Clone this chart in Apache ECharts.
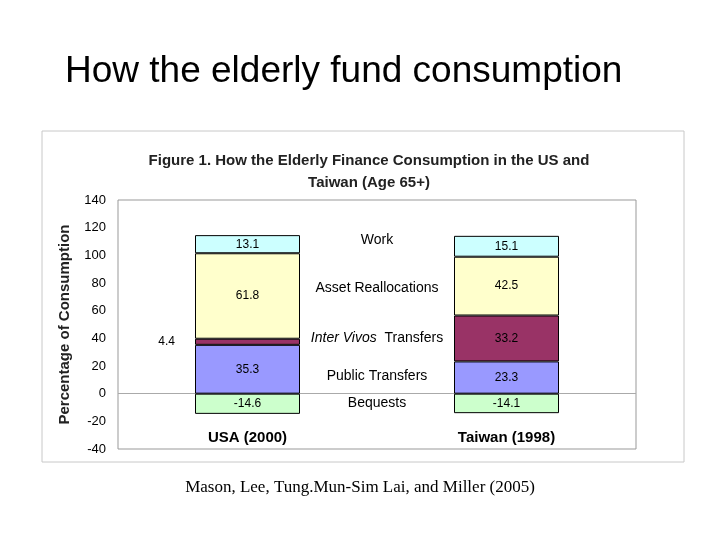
<!DOCTYPE html>
<html>
<head>
<meta charset="utf-8">
<script src="https://cdn.jsdelivr.net/npm/echarts@6/dist/echarts.min.js"></script>
<style>
  html, body { margin: 0; padding: 0; background: #fff; }
  #chart { width: 720px; height: 540px; }
</style>
</head>
<body>
<div id="chart"></div>
<script>
// categories and stacked components (percent of consumption)
var countries = ['USA (2000)', 'Taiwan (1998)'];
var publicTransfers = [35.3, 23.3];
var interVivos = [4.4, 33.2];
var assetRealloc = [61.8, 42.5];
var work = [13.1, 15.1];
var bequests = [-14.6, -14.1];

// middle legend-style labels and their heights
var middleNames = ['Work', 'Asset Reallocations', '{i|Inter Vivos}  Transfers', 'Public Transfers', 'Bequests'];
var middleY = [111, 76, 40, 13, -7];

var myChart = echarts.init(document.getElementById('chart'));

function part(name, data, color, opts) {
    return Object.assign({
        name: name,
        type: 'bar',
        stack: 'all',
        data: data,
        barWidth: 105,
        itemStyle: { color: color, borderColor: '#000', borderWidth: 1 },
        label: { show: true, position: 'inside', color: '#000', fontSize: 12, fontFamily: 'Liberation Sans' }
    }, opts || {});
}

myChart.setOption({
    animation: false,
    textStyle: { fontFamily: 'Liberation Sans' },
    title: [
        {
            text: 'How the elderly fund consumption',
            left: 60, top: 48,
            textStyle: { fontSize: 37, fontWeight: 'normal', color: '#000', fontFamily: 'Liberation Sans' }
        },
        {
            text: 'Figure 1. How the Elderly Finance Consumption in the US and\nTaiwan (Age 65+)',
            left: 364, top: 145, textAlign: 'center',
            textStyle: { fontSize: 15, fontWeight: 'bold', color: '#222', lineHeight: 22, fontFamily: 'Liberation Sans' }
        },
        {
            text: 'Mason, Lee, Tung.Mun-Sim Lai, and Miller (2005)',
            left: 'center', top: 474,
            textStyle: { fontSize: 17, fontWeight: 'normal', color: '#000', fontFamily: 'Liberation Serif' }
        }
    ],
    graphic: [{
        type: 'rect',
        shape: { x: 42, y: 131, width: 642, height: 331 },
        style: { fill: 'none', stroke: '#c8c8c8', lineWidth: 1 },
        z: -1
    }],
    grid: { left: 118, right: 84, top: 200, bottom: 91, show: true, borderColor: '#999', borderWidth: 1 },
    xAxis: [
        {
            type: 'category',
            data: countries,
            position: 'bottom',
            axisTick: { show: false },
            axisLine: { show: false },
            axisLabel: { inside: true, margin: 4, fontSize: 15, fontWeight: 'bold', color: '#000', verticalAlign: 'bottom' }
        },
        { type: 'value', min: 0, max: 1, show: false }
    ],
    yAxis: {
        type: 'value',
        min: -40, max: 140, interval: 20,
        name: 'Percentage of Consumption',
        nameLocation: 'middle',
        nameGap: 46,
        nameTextStyle: { fontSize: 15, fontWeight: 'bold', color: '#222' },
        axisLine: { show: false },
        axisTick: { show: false },
        splitLine: { show: false },
        axisLabel: { fontSize: 13, color: '#000', margin: 12 }
    },
    series: [
        part('Public Transfers', publicTransfers, '#9999ff'),
        part('Inter Vivos Transfers', interVivos.map(function (v, i) {
            return i === 0
                ? { value: v, label: { position: 'left', distance: 20 } }
                : { value: v };
        }), '#993366'),
        part('Asset Reallocations', assetRealloc, '#ffffcc'),
        part('Work', work, '#ccffff'),
        part('Bequests', bequests, '#ccffcc', {
            markLine: {
                silent: true, symbol: 'none',
                lineStyle: { color: '#aaa', type: 'solid', width: 1 },
                label: { show: false },
                data: [{ yAxis: 0 }],
                z: 0
            }
        }),
        {
            type: 'scatter',
            xAxisIndex: 1,
            symbolSize: 0,
            itemStyle: { opacity: 1 },
            data: middleNames.map(function (n, i) { return { name: n, value: [0.5, middleY[i]] }; }),
            label: {
                show: true, position: 'inside', color: '#000', fontSize: 14,
                formatter: function (p) { return p.name; },
                rich: { i: { fontStyle: 'italic', fontSize: 14, color: '#000' } }
            },
            z: 5
        }
    ]
});
</script>
</body>
</html>
